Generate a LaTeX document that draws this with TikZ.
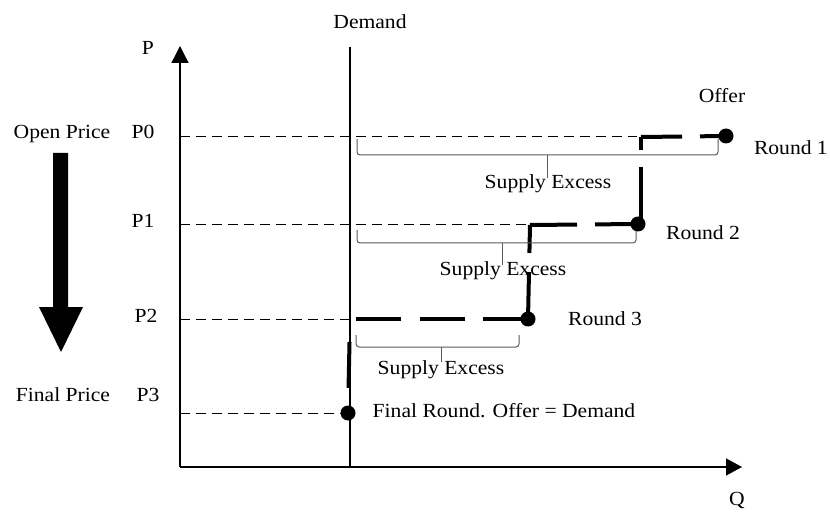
\documentclass[tikz,border=0pt]{standalone}
\usepackage{fontspec}
\setmainfont[FakeStretch=1.08]{Liberation Serif}
\usetikzlibrary{arrows.meta}
\begin{document}
\begin{tikzpicture}[x=1pt,y=-1pt,
  lbl/.style={inner sep=0pt,font=\fontsize{20}{22}\selectfont,text height=14pt,text depth=4pt},
  axis/.style={line width=1.3pt},
  guide/.style={line width=1pt,dash pattern=on 10pt off 6pt},
  offer/.style={line width=4pt},
  bracefig/.style={line width=1pt,draw=black!65,rounded corners=3pt},
  dot/.style={circle,fill=black,inner sep=0pt,minimum size=15pt}]
\useasboundingbox (0,0) rectangle (830,513);

% axes and demand curve
\coordinate (origin) at (180,467);
\coordinate (ytop) at (180,46);
\coordinate (xend) at (742,467);
\coordinate (dtop) at (350,47);
\coordinate (dbot) at (350,467);
\draw[axis,-{Triangle[width=17pt,length=17pt]}] (origin) -- (ytop);
\draw[axis,-{Triangle[width=17pt,length=16pt]}] (origin) -- (xend);
\draw[axis] (dtop) -- (dbot);

% price levels on the axis
\coordinate (a0) at (180,137);
\coordinate (a1) at (180,225);
\coordinate (a2) at (180,319);
\coordinate (a3) at (180,413);

% corners of the offer step curve
\coordinate (c0) at (641,137);
\coordinate (c1) at (530,225);
\coordinate (c2) at (350,319);
\node[dot] (r1) at (726,136) {};
\node[dot] (r2) at (638,224) {};
\node[dot] (r3) at (528,319) {};
\node[dot] (rf) at (348,413) {};

% thin dashed guides from the axis
\draw[guide] (a0) -- (637,137);
\draw[guide] (a1) -- (528,225);
\draw[guide] (a2) -- (c2);
\draw[guide] (a3) -- (rf.center);

% offer step curve
\draw[offer,dash pattern=on 41pt off 18pt on 60pt] (c0) -- (r1.center);
\draw[offer,dash pattern=on 13pt off 17pt on 80pt] (c0) -- (641,225);
\draw[offer,dash pattern=on 47pt off 18pt on 60pt] (c1) -- (r2.center);
\draw[offer,dash pattern=on 28pt off 19pt on 80pt] (c1) -- (r3.center);
\draw[offer,dash pattern=on 0pt off 6pt on 45pt off 19pt on 45pt off 18pt on 80pt] (c2) -- (r3.center);
\draw[offer,dash pattern=on 0pt off 23pt on 46pt off 40pt] (c2) -- (rf.center);

% supply excess braces
\draw[bracefig] (357,139) -- (357,155) -- (547,155) -- (718,155) -- (718,139);
\draw[bracefig] (547,155) -- (547,178);
\draw[bracefig] (357,230) -- (357,243) -- (502,243) -- (636,243) -- (636,231);
\draw[bracefig] (502,243) -- (502,265);
\draw[bracefig] (356,335) -- (356,347) -- (441,347) -- (519,347) -- (519,335);
\draw[bracefig] (441,347) -- (441,362);

% big downward arrow
\fill (53,153) -- (68,153) -- (68,307) -- (83,307) -- (61,352) -- (39,307) -- (53,307) -- cycle;

% labels
\node[lbl] (tdemand) at (370,24) {Demand};
\node[lbl] (tp) at (148,50) {P};
\node[lbl] (tq) at (737,500) {Q};
\node[lbl] (topen) at (62,134) {Open Price};
\node[lbl] (tfinal) at (63,396) {Final Price};
\node[lbl] (tp0) at (143,134) {P0};
\node[lbl] (tp1) at (143,223) {P1};
\node[lbl] (tp2) at (146,317) {P2};
\node[lbl] (tp3) at (148,396) {P3};
\node[lbl] (toffer) at (722,98) {Offer};
\node[lbl,anchor=east] (tr1) at (828,150) {Round 1};
\node[lbl] (tr2) at (703,235) {Round 2};
\node[lbl] (tr3) at (605,320) {Round 3};
\node[lbl] (ts1) at (548,184) {Supply Excess};
\node[lbl] (ts2) at (503,270) {Supply Excess};
\node[lbl] (ts3) at (441,369) {Supply Excess};
\node[lbl] (tfr) at (504,412) {Final Round. Offer = Demand};
\end{tikzpicture}
\end{document}
